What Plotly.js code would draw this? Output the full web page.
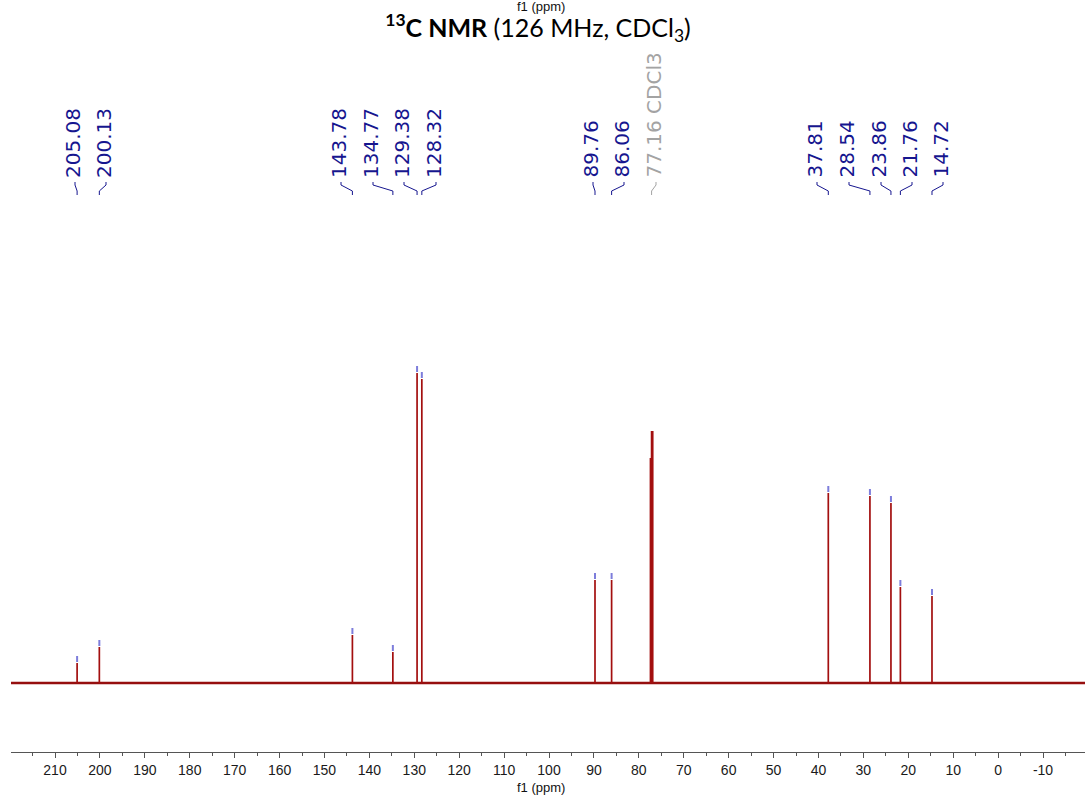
<!DOCTYPE html>
<html><head><meta charset="utf-8">
<script src="https://cdn.plot.ly/plotly-3.0.1.min.js"></script>
<style>html,body{margin:0;padding:0;background:#fff}#chart{width:1087px;height:795px}</style>
</head><body><div id="chart"></div>
<script>
// ---- data ----
const peakPpm    = [205.08, 200.13, 143.78, 134.77, 129.38, 128.32, 89.76, 86.06, 37.81, 28.54, 23.86, 21.76, 14.72];
const peakHeight = [20, 36, 48, 31, 310, 304, 103, 103, 190, 187, 180, 96, 87];
const solventPpm    = [77.41, 77.16, 76.91];
const solventHeight = [225, 252, 252];
const solventLabel  = "77.16 CDCl3";
const majorTicks = [210, 200, 190, 180, 170, 160, 150, 140, 130, 120, 110, 100, 90, 80, 70, 60, 50, 40, 30, 20, 10, 0, -10];
const minorTicks = [215, 205, 195, 185, 175, 165, 155, 145, 135, 125, 115, 105, 95, 85, 75, 65, 55, 45, 35, 25, 15, 5, -5, -15];
const tickLabels = ["210","200","190","180","170","160","150","140","130","120","110","100","90","80","70","60","50","40","30","20","10","0","-10"];

// ---- layout geometry (pixels) ----
const W = 1087, H = 795;
const PL = 11, PR = 1085, PT = 200, PB = 752;
const XR = [219.8, -19.35];
const YR = [-69, 483];
const labelPx = [73, 104, 339, 371, 402, 434, 591, 622, 815, 847, 879, 910, 941];
const solventLabelPx = 654;

const pxToPpm = px => XR[0] + (px - PL) / (PR - PL) * (XR[1] - XR[0]);
const pyToPaper = py => (PB - py) / (PB - PT);

const RED = '#a30f0f', BLUE = '#7d7ddb', NAVY = '#16168f', GRAY = '#a3a3a3';

// spectrum lines
const sx = [], sy = [];
peakPpm.forEach((p, i) => { sx.push(p, p, null); sy.push(0, peakHeight[i], null); });
solventPpm.forEach((p, i) => { sx.push(p, p, null); sy.push(0, solventHeight[i], null); });

const bx = [], by = [];
peakPpm.forEach((p, i) => { bx.push(p, p, null); by.push(peakHeight[i] + 1, peakHeight[i] + 7, null); });

const traces = [
  {x: [XR[0], XR[1]], y: [0, 0], mode: 'lines', line: {color: '#960f0f', width: 2.6}, hoverinfo: 'skip'},
  {x: sx, y: sy, mode: 'lines', line: {color: RED, width: 1.7}, hoverinfo: 'skip'},
  {x: bx, y: by, mode: 'lines', line: {color: BLUE, width: 2}, hoverinfo: 'skip'}
];

const annotations = [];
const shapes = [];
const labelBottom = pyToPaper(179);
function connector(lp, pp, col) {
  const y1 = pyToPaper(182), y2 = pyToPaper(185), y3 = pyToPaper(191), y4 = pyToPaper(195);
  shapes.push({type: 'path', xref: 'x', yref: 'paper',
    path: `M ${lp},${y1} L ${lp},${y2} L ${pp},${y3} L ${pp},${y4}`,
    line: {color: col, width: 1}});
}
peakPpm.forEach((p, i) => {
  const lp = pxToPpm(labelPx[i]);
  annotations.push({x: lp, xref: 'x', y: labelBottom, yref: 'paper', text: p.toFixed(2),
    textangle: -90, showarrow: false, xanchor: 'center', yanchor: 'bottom',
    font: {family: 'DejaVu Sans', size: 20, color: NAVY}, borderpad: 0});
  connector(pxToPpm(labelPx[i] + 2), p, NAVY);
});
annotations.push({x: pxToPpm(solventLabelPx), xref: 'x', y: labelBottom, yref: 'paper', text: solventLabel,
  textangle: -90, showarrow: false, xanchor: 'center', yanchor: 'bottom',
  font: {family: 'DejaVu Sans', size: 20, color: GRAY}, borderpad: 0});
connector(pxToPpm(solventLabelPx + 2), solventPpm[1], GRAY);

annotations.push({x: (541 - PL) / (PR - PL), xref: 'paper', y: pyToPaper(7), yref: 'paper', text: 'f1 (ppm)',
  showarrow: false, xanchor: 'center', yanchor: 'middle', font: {family: 'Liberation Sans', size: 13, color: '#111'}});
annotations.push({x: (541 - PL) / (PR - PL), xref: 'paper', y: pyToPaper(787), yref: 'paper', text: 'f1 (ppm)',
  showarrow: false, xanchor: 'center', yanchor: 'middle', font: {family: 'Liberation Sans', size: 13, color: '#111'}});

const layout = {
  width: W, height: H,
  margin: {l: PL, r: W - PR, t: PT, b: H - PB, pad: 0},
  paper_bgcolor: '#fff', plot_bgcolor: '#fff',
  showlegend: false,
  title: {text: '<b><sup>13</sup>C NMR</b> (126 MHz, CDCl<sub>3</sub>)',
    x: 538 / W, xref: 'container', xanchor: 'center', y: 1 - 28 / H, yref: 'container', yanchor: 'middle',
    font: {family: 'Lato', size: 25, color: '#000'}},
  xaxis: {range: XR, tickmode: 'array', tickvals: majorTicks, ticktext: tickLabels,
    ticks: 'outside', ticklen: 5, tickwidth: 1, tickcolor: '#555',
    showline: true, linecolor: '#555', linewidth: 1, showgrid: false, zeroline: false,
    tickfont: {family: 'Liberation Sans', size: 14, color: '#1a1a1a'},
    minor: {tickmode: 'array', tickvals: minorTicks, ticks: 'outside', ticklen: 3, tickwidth: 1, tickcolor: '#555', showgrid: false},
    fixedrange: true},
  yaxis: {range: YR, visible: false, fixedrange: true},
  annotations: annotations,
  shapes: shapes
};

Plotly.newPlot('chart', traces, layout, {staticPlot: true, displayModeBar: false});
</script></body></html>
